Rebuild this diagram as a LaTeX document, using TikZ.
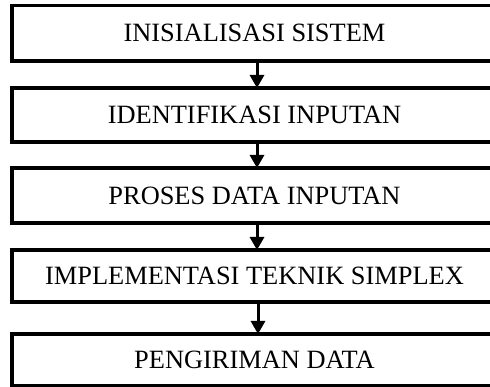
\documentclass[tikz,border=0pt]{standalone}
\usepackage{fontspec}
\setmainfont{Liberation Serif}
\usetikzlibrary{arrows.meta}
\begin{document}
\begin{tikzpicture}[x=1pt,y=1pt,
  stepbox/.style={draw=black, line width=3.5pt, minimum width=485pt, inner sep=0pt, outer sep=0pt, font=\fontsize{26.4}{30}\selectfont},
  flow/.style={line width=3pt, -{Triangle[length=13pt,width=14pt]}}]
\useasboundingbox (0,0) rectangle (490,-387);
\node[stepbox, minimum height=55.5pt] (b1) at (254.5,-33.25) {INISIALISASI SISTEM};
\node[stepbox, minimum height=54pt] (b2) at (254.5,-115) {IDENTIFIKASI INPUTAN};
\node[stepbox, minimum height=55pt] (b3) at (254.5,-195.5) {PROSES DATA INPUTAN};
\node[stepbox, minimum height=52pt] (b4) at (254.5,-276) {IMPLEMENTASI TEKNIK SIMPLEX};
\node[stepbox, minimum height=52pt] (b5) at (254.5,-360) {PENGIRIMAN DATA};
\draw[flow] ([xshift=2.5pt]b1.south) -- ([xshift=2.5pt]b2.north);
\draw[flow] ([xshift=2.5pt]b2.south) -- ([xshift=2.5pt]b3.north);
\draw[flow] ([xshift=2.5pt]b3.south) -- ([xshift=2.5pt]b4.north);
\draw[flow] ([xshift=3.5pt]b4.south) -- ([xshift=3.5pt]b5.north);
\end{tikzpicture}
\end{document}
